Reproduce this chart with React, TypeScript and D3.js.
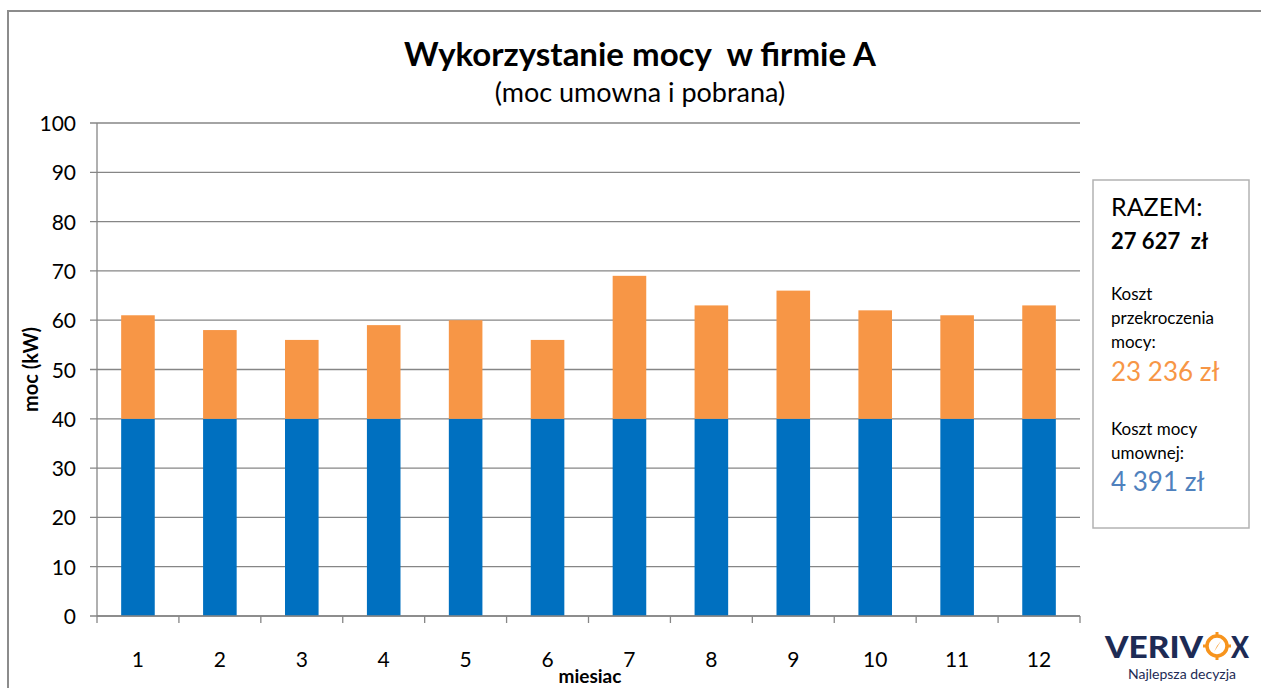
import React from "react";
import * as d3 from "d3";

const months = ["1", "2", "3", "4", "5", "6", "7", "8", "9", "10", "11", "12"];
const contracted = [40, 40, 40, 40, 40, 40, 40, 40, 40, 40, 40, 40];
const excess = [21, 18, 16, 19, 20, 16, 29, 23, 26, 22, 21, 23];
const yTicks = [0, 10, 20, 30, 40, 50, 60, 70, 80, 90, 100];

const BLUE = "#0070C0";
const ORANGE = "#F79646";
const GRID = "#868686";
const FONT = "Lato, 'Liberation Sans', sans-serif";

const App: React.FC = () => {
  const W = 1261;
  const H = 688;
  const plot = { left: 97, right: 1080, top: 123, bottom: 616 };

  const x = d3
    .scaleBand()
    .domain(months)
    .range([plot.left, plot.right])
    .paddingInner(0.59)
    .paddingOuter(0.295);
  const band = d3.scaleBand().domain(months).range([plot.left, plot.right]);
  const y = d3.scaleLinear().domain([0, 100]).range([plot.bottom, plot.top]);

  const stacked = months.map((m, i) => ({
    m,
    base: contracted[i],
    total: contracted[i] + excess[i],
  }));

  return (
    <svg
      width={W}
      height={H}
      style={{ position: "absolute", left: 0, top: 0, background: "#fff" }}
      fontFamily={FONT}
    >
      {/* outer frame, runs off the right and bottom edges */}
      <rect x={8} y={11} width={1400} height={800} fill="none" stroke="#8c8c8c" strokeWidth={2} />

      <text x={640} y={66} textAnchor="middle" fontSize={33} fontWeight="bold" fill="#000">
        Wykorzystanie mocy{"\u00a0\u00a0"}w firmie A
      </text>
      <text x={640} y={102} textAnchor="middle" fontSize={27} fill="#000">
        (moc umowna i pobrana)
      </text>

      {/* gridlines + y ticks */}
      {yTicks.map((t) => (
        <g key={t}>
          <line x1={plot.left - 7} x2={plot.right} y1={y(t)} y2={y(t)} stroke={GRID} strokeWidth={1.3} />
          <text x={76} y={y(t) + 8} textAnchor="end" fontSize={21} fill="#000">
            {t}
          </text>
        </g>
      ))}

      {/* bars */}
      {stacked.map((d) => (
        <g key={d.m}>
          <rect x={x(d.m)} y={y(d.base)} width={x.bandwidth()} height={y(0) - y(d.base)} fill={BLUE} />
          <rect x={x(d.m)} y={y(d.total)} width={x.bandwidth()} height={y(d.base) - y(d.total)} fill={ORANGE} />
        </g>
      ))}

      {/* axes */}
      <line x1={plot.left} x2={plot.left} y1={plot.top} y2={plot.bottom} stroke={GRID} strokeWidth={1.3} />
      <line x1={plot.left} x2={plot.right} y1={plot.bottom} y2={plot.bottom} stroke={GRID} strokeWidth={1.3} />
      {months.map((m) => (
        <line
          key={"t" + m}
          x1={(band(m) as number) + band.bandwidth()}
          x2={(band(m) as number) + band.bandwidth()}
          y1={plot.bottom}
          y2={plot.bottom + 7}
          stroke={GRID}
          strokeWidth={1.3}
        />
      ))}
      <line x1={plot.left} x2={plot.left} y1={plot.bottom} y2={plot.bottom + 7} stroke={GRID} strokeWidth={1.3} />
      {months.map((m) => (
        <text
          key={"l" + m}
          x={(band(m) as number) + band.bandwidth() / 2}
          y={667}
          textAnchor="middle"
          fontSize={21}
          fill="#000"
        >
          {m}
        </text>
      ))}

      <text x={590} y={683} textAnchor="middle" fontSize={19} fontWeight="bold" fill="#000">
        miesiac
      </text>
      <text
        transform={`translate(38, ${y(50)}) rotate(-90)`}
        textAnchor="middle"
        fontSize={20}
        fontWeight="bold"
        fill="#000"
      >
        moc (kW)
      </text>

      {/* cost box */}
      <rect x={1093} y={180} width={156} height={348} fill="#fff" stroke="#b3b3b3" strokeWidth={1.5} />
      <g fontFamily={FONT} fill="#000">
        <text x={1111} y={216} fontSize={25}>RAZEM:</text>
        <text x={1111} y={249} fontSize={22} fontWeight="bold">27 627{"\u00a0\u00a0"}zł</text>
        <text x={1111} y={300} fontSize={17}>Koszt</text>
        <text x={1111} y={324} fontSize={17}>przekroczenia</text>
        <text x={1111} y={348} fontSize={17}>mocy:</text>
        <text x={1111} y={381} fontSize={26} fill={ORANGE}>23 236 zł</text>
        <text x={1111} y={435} fontSize={17}>Koszt mocy</text>
        <text x={1111} y={459} fontSize={17}>umownej:</text>
        <text x={1111} y={491} fontSize={26} fill="#4F81BD">4 391 zł</text>
      </g>

      {/* logo */}
      <g>
        <text x={1105} y={658} fontSize={31} fontWeight="900" fill="#1D2B55" textLength={98} lengthAdjust="spacingAndGlyphs">
          VERIV
        </text>
        <circle cx={1217} cy={646} r={10} fill="none" stroke="#F7941D" strokeWidth={3.5} />
        <line x1={1217} x2={1217} y1={632} y2={636} stroke="#F7941D" strokeWidth={3} />
        <line x1={1217} x2={1217} y1={656} y2={660} stroke="#F7941D" strokeWidth={3} />
        <line x1={1203} x2={1207} y1={646} y2={646} stroke="#F7941D" strokeWidth={3} />
        <line x1={1227} x2={1231} y1={646} y2={646} stroke="#F7941D" strokeWidth={3} />
        <path d="M1221,641 L1214,652 L1217,646 Z" fill="#F7941D" />
        <text x={1231} y={658} fontSize={31} fontWeight="900" fill="#1D2B55" textLength={18} lengthAdjust="spacingAndGlyphs">
          X
        </text>
        <text x={1182} y={679} textAnchor="middle" fontSize={14} fill="#1D2B55">
          Najlepsza decyzja
        </text>
      </g>
    </svg>
  );
};

export default App;
